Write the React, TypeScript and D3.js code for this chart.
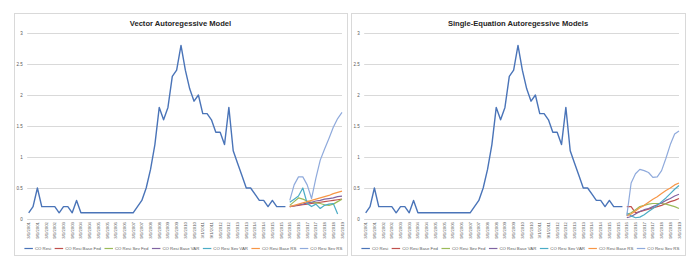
import { useEffect, useRef } from "react";
import * as d3 from "d3";

const W = 693;
const H = 264;

// quarterly categories 3/1/2001 .. 3/1/2019
const quarters = d3.timeMonth.range(new Date(2001, 2, 1), new Date(2019, 3, 1), 3);
const categories = quarters.map(d3.timeFormat("%-m/%-d/%Y"));
const yTicks = [0, 0.5, 1, 1.5, 2, 2.5, 3];

const seriesNames = [
  "CO Resi",
  "CO Resi Base Fed",
  "CO Resi Sev Fed",
  "CO Resi Base VAR",
  "CO Resi Sev VAR",
  "CO Resi Base RS",
  "CO Resi Sev RS",
];
const seriesColors = ["#4A74B8", "#C0504D", "#9BBB59", "#8064A2", "#4BACC6", "#F79646", "#8FAADC"];

const history = [
  0.1, 0.2, 0.5, 0.2, 0.2, 0.2, 0.2, 0.1, 0.2, 0.2, 0.1, 0.3, 0.1,
  0.1, 0.1, 0.1, 0.1, 0.1, 0.1, 0.1, 0.1, 0.1, 0.1, 0.1, 0.1,
  0.2, 0.3, 0.5, 0.8, 1.2, 1.8, 1.6, 1.8, 2.3, 2.4, 2.8, 2.4, 2.1, 1.9, 2.0,
  1.7, 1.7, 1.6, 1.4, 1.4, 1.2, 1.8, 1.1, 0.9, 0.7, 0.5, 0.5, 0.4, 0.3, 0.3,
  0.2, 0.3, 0.2, 0.2, 0.2,
];

// Vector autoregressive model panel forecasts
const varBaseFed = [0.2, 0.21, 0.22, 0.23, 0.24, 0.25, 0.26, 0.27, 0.28, 0.29, 0.3, 0.31, 0.32];
const varSevFed = [0.22, 0.28, 0.34, 0.32, 0.29, 0.27, 0.26, 0.25, 0.23, 0.22, 0.24, 0.28, 0.32];
const varBaseVar = [0.2, 0.21, 0.23, 0.24, 0.26, 0.27, 0.29, 0.3, 0.32, 0.33, 0.34, 0.36, 0.37];
const varSevVar = [0.27, 0.32, 0.37, 0.5, 0.25, 0.2, 0.24, 0.17, 0.22, 0.24, 0.25, 0.08, null];
const varBaseRs = [0.2, 0.22, 0.24, 0.26, 0.28, 0.3, 0.32, 0.34, 0.36, 0.38, 0.41, 0.43, 0.45];
const varSevRs = [0.3, 0.55, 0.68, 0.68, 0.55, 0.33, 0.66, 0.95, 1.13, 1.3, 1.48, 1.62, 1.72];

// Single-equation models panel forecasts
const seBaseFed = [0.2, 0.2, 0.1, 0.12, 0.14, 0.16, 0.18, 0.2, 0.22, 0.25, 0.28, 0.3, 0.33];
const seSevFed = [0.07, 0.1, 0.15, 0.2, 0.22, 0.24, 0.25, 0.25, 0.25, 0.24, 0.22, 0.2, 0.17];
const seBaseVar = [0.02, 0.04, 0.08, 0.12, 0.15, 0.17, 0.2, 0.23, 0.26, 0.3, 0.33, 0.37, 0.4];
const seSevVar = [0.1, 0.05, 0.02, 0.03, 0.07, 0.12, 0.17, 0.22, 0.28, 0.34, 0.41, 0.48, 0.54];
const seBaseRs = [0.05, 0.08, 0.13, 0.18, 0.22, 0.27, 0.32, 0.36, 0.41, 0.46, 0.5, 0.55, 0.58];
const seSevRs = [0.05, 0.58, 0.73, 0.8, 0.78, 0.75, 0.67, 0.68, 0.78, 0.98, 1.2, 1.37, 1.42];

const panels = [
  {
    title: "Vector Autoregessive Model",
    box: [14, 347],
    plot: [28.7, 342],
    forecasts: [varBaseFed, varSevFed, varBaseVar, varSevVar, varBaseRs, varSevRs],
  },
  {
    title: "Single-Equation Autoregessive Models",
    box: [351, 685],
    plot: [365.7, 679],
    forecasts: [seBaseFed, seSevFed, seBaseVar, seSevVar, seBaseRs, seSevRs],
  },
];

const FONT = "'Liberation Sans', Arial, sans-serif";
const TEXT = "#595959";
const GRID = "#D9D9D9";

function drawPanel(svg: any, p: any) {
  const g = svg.append("g");
  const top = 13;
  const bottom = 255;

  g.append("rect")
    .attr("x", p.box[0] + 0.5)
    .attr("y", top + 0.5)
    .attr("width", p.box[1] - p.box[0])
    .attr("height", bottom - top)
    .attr("fill", "#fff")
    .attr("stroke", GRID);

  const x = d3.scalePoint<string>().domain(categories).range(p.plot);
  const y = d3.scaleLinear().domain([0, 3]).range([219, 33]);

  // gridlines
  g.selectAll(".grid")
    .data(yTicks)
    .join("line")
    .attr("x1", p.plot[0] - 1.5)
    .attr("x2", p.plot[1])
    .attr("y1", (d) => Math.round(y(d)) + 0.5)
    .attr("y2", (d) => Math.round(y(d)) + 0.5)
    .attr("stroke", GRID)
    .attr("stroke-width", 1);

  // y labels
  g.selectAll(".ylab")
    .data(yTicks)
    .join("text")
    .attr("x", p.plot[0] - 6)
    .attr("y", (d) => y(d))
    .attr("dy", "0.35em")
    .attr("text-anchor", "end")
    .attr("font-size", 4.5)
    .attr("font-family", FONT)
    .attr("fill", TEXT)
    .text((d) => d3.format("")(d));

  // x labels every other quarter, rotated
  g.selectAll(".xlab")
    .data(categories.filter((_, i) => i % 2 === 0))
    .join("text")
    .attr("transform", (d) => `translate(${x(d)! + 1.5},222) rotate(-90)`)
    .attr("text-anchor", "end")
    .attr("font-size", 4.3)
    .attr("font-family", FONT)
    .attr("fill", TEXT)
    .text((d) => d);

  const line = d3
    .line<[string, number | null]>()
    .defined((d) => d[1] != null)
    .x((d) => x(d[0])!)
    .y((d) => y(d[1] as number));

  const histData = history.map((v, i) => [categories[i], v] as [string, number | null]);
  const fcCats = categories.slice(history.length);

  p.forecasts.forEach((vals: (number | null)[], k: number) => {
    g.append("path")
      .attr("d", line(vals.map((v, i) => [fcCats[i], v] as [string, number | null])))
      .attr("fill", "none")
      .attr("stroke", seriesColors[k + 1])
      .attr("stroke-width", 1.2)
      .attr("stroke-linejoin", "round");
  });

  g.append("path")
    .attr("d", line(histData))
    .attr("fill", "none")
    .attr("stroke", seriesColors[0])
    .attr("stroke-width", 1.4)
    .attr("stroke-linejoin", "round");

  // title
  g.append("text")
    .attr("x", (p.box[0] + p.box[1]) / 2)
    .attr("y", 25.5)
    .attr("text-anchor", "middle")
    .attr("font-size", 7.6)
    .attr("font-weight", "bold")
    .attr("font-family", FONT)
    .attr("fill", "#262626")
    .text(p.title);

  // legend
  const lg = g.append("g");
  const items = lg
    .selectAll("g")
    .data(seriesNames)
    .join("g");
  items
    .append("text")
    .attr("font-size", 4.3)
    .attr("font-family", FONT)
    .attr("fill", TEXT)
    .attr("dy", "0.35em")
    .text((d) => d);
  const widths: number[] = [];
  items.selectAll("text").each(function (this: any) {
    widths.push(this.getComputedTextLength());
  });
  const swatch = 8.5;
  const gap = 2;
  const spacing = 3.5;
  const total = d3.sum(widths) + seriesNames.length * (swatch + gap) + (seriesNames.length - 1) * spacing;
  let cx = (p.plot[0] + p.plot[1]) / 2 - 2 - total / 2;
  const ly = 248.5;
  items.each(function (this: any, d: string, i: number) {
    const it = d3.select(this);
    it.append("line")
      .attr("x1", cx)
      .attr("x2", cx + swatch)
      .attr("y1", ly)
      .attr("y2", ly)
      .attr("stroke", seriesColors[i])
      .attr("stroke-width", 1.2);
    it.select("text").attr("x", cx + swatch + gap).attr("y", ly);
    cx += swatch + gap + widths[i] + spacing;
  });
}

export default function App() {
  const svgRef = useRef<SVGSVGElement>(null);
  useEffect(() => {
    const svg = d3.select(svgRef.current);
    svg.selectAll("*").remove();
    panels.forEach((p) => drawPanel(svg, p));
  }, []);
  return (
    <svg
      ref={svgRef}
      width={W}
      height={H}
      style={{ position: "absolute", left: 0, top: 0, background: "#fff", display: "block" }}
    />
  );
}
